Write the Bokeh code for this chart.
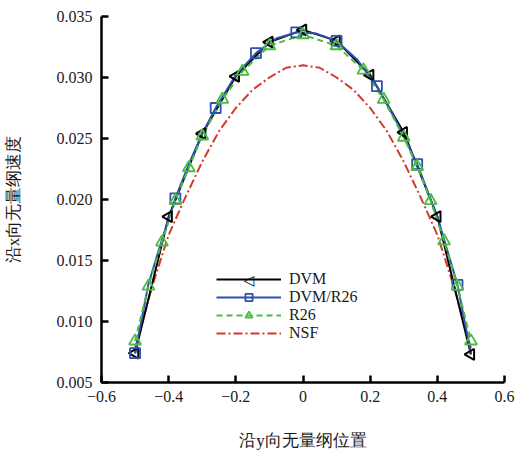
import numpy as np
from bokeh.plotting import figure
from bokeh.models import (Range1d, FixedTicker, CustomJSTickFormatter, PrintfTickFormatter,
                          Legend, LegendItem, Label)
from bokeh.embed import file_html
from bokeh.resources import INLINE

# ---------------- data ----------------
dvm_x = [-0.5, -0.4, -0.3, -0.2, -0.1, 0.0, 0.1, 0.2, 0.3, 0.4, 0.5]
dvm_y = [0.0074, 0.0186, 0.0254, 0.0301, 0.0329, 0.0339, 0.0330, 0.0302, 0.0255, 0.0186, 0.0073]

dvmr26_x = [-0.5, -0.38, -0.26, -0.14, -0.02, 0.10, 0.22, 0.34, 0.46]
dvmr26_y = [0.0074, 0.0201, 0.0275, 0.0320, 0.0337, 0.0330, 0.0293, 0.0229, 0.0130]

dvmr26_line_x = [-0.5, -0.46, -0.42, -0.38, -0.34, -0.30, -0.26, -0.20, -0.14, -0.08, -0.02,
                 0.04, 0.10, 0.16, 0.22, 0.28, 0.34, 0.40, 0.46, 0.5]
dvmr26_line_y = [0.0074, 0.0131, 0.0167, 0.0201, 0.0229, 0.0254, 0.0275, 0.0302, 0.0320, 0.0332, 0.0337,
                 0.0336, 0.0330, 0.0315, 0.0293, 0.0263, 0.0229, 0.0186, 0.0130, 0.0074]

r26_x = [-0.5, -0.46, -0.42, -0.38, -0.34, -0.30, -0.24, -0.18, -0.10, 0.0,
         0.10, 0.18, 0.24, 0.30, 0.34, 0.38, 0.42, 0.46, 0.5]
r26_y = [0.0084, 0.0129, 0.0165, 0.0199, 0.0226, 0.0252, 0.0282, 0.0305, 0.0326, 0.0335,
         0.0326, 0.0306, 0.0282, 0.0251, 0.0227, 0.0199, 0.0166, 0.0129, 0.0084]

nsf_x = [-0.5, -0.45, -0.4, -0.35, -0.3, -0.25, -0.2, -0.15, -0.1, -0.05, 0.0,
         0.05, 0.1, 0.15, 0.2, 0.25, 0.3, 0.35, 0.4, 0.45, 0.5]
nsf_y = [0.0078, 0.0128, 0.0171, 0.0202, 0.0231, 0.0256, 0.0275, 0.0290, 0.0300, 0.0308, 0.0310,
         0.0308, 0.0300, 0.0290, 0.0275, 0.0256, 0.0231, 0.0202, 0.0171, 0.0128, 0.0078]

x_ticks = [-0.6, -0.4, -0.2, 0.0, 0.2, 0.4, 0.6]
y_ticks = [0.005, 0.010, 0.015, 0.020, 0.025, 0.030, 0.035]

x_label = "沿y向无量纲位置"
y_label = "沿x向无量纲速度"
labels = ["DVM", "DVM/R26", "R26", "NSF"]

# ---------------- styling ----------------
BLACK = "#000000"
BLUE = "#2f4fae"
GREEN = "#4dbb44"
RED = "#d23a2c"
SERIF = "Liberation Serif"

p = figure(width=517, height=452, output_backend="svg", toolbar_location=None,
           x_range=Range1d(-0.6, 0.6), y_range=Range1d(0.005, 0.035),
           min_border_left=100, min_border_right=13, min_border_top=16, min_border_bottom=67)
p.outline_line_color = None
p.xgrid.visible = False
p.ygrid.visible = False
p.background_fill_color = "white"
p.border_fill_color = "white"

for ax in (p.xaxis[0], p.yaxis[0]):
    ax.axis_line_width = 2.5
    ax.axis_line_color = "black"
    ax.major_tick_line_width = 2.5
    ax.major_tick_in = 7
    ax.major_tick_out = 0
    ax.minor_tick_line_color = None
    ax.major_label_text_font = SERIF
    ax.major_label_text_font_size = "16px"
    ax.major_label_text_color = "#1a1a1a"
    ax.axis_label_text_font = SERIF
    ax.axis_label_text_font_size = "17px"
    ax.axis_label_text_font_style = "normal"
    ax.axis_label_text_color = "#1a1a1a"

p.xaxis.ticker = FixedTicker(ticks=x_ticks)
p.yaxis.ticker = FixedTicker(ticks=y_ticks)
p.xaxis.formatter = CustomJSTickFormatter(
    code="if (Math.abs(tick) < 1e-9) return '0'; return tick.toFixed(1).replace('-', '\u2212');")
p.yaxis.formatter = PrintfTickFormatter(format="%.3f")
p.xaxis.major_label_standoff = 8
p.yaxis.major_label_standoff = 9
p.xaxis.axis_label = x_label
p.yaxis.axis_label = y_label
p.xaxis.axis_label_standoff = 26
p.yaxis.axis_label_standoff = 31

# ---------------- glyphs ----------------
r_nsf = p.line(nsf_x, nsf_y, line_color=RED, line_width=2, line_dash="9 3 2 3")
r_dvm_l = p.line(dvm_x, dvm_y, line_color=BLACK, line_width=2)
r_blue_l = p.line(dvmr26_line_x, dvmr26_line_y, line_color=BLUE, line_width=2)
r_r26_l = p.line(r26_x, r26_y, line_color=GREEN, line_width=2, line_dash="6 4")

r_dvm_m = p.scatter(dvm_x, dvm_y, marker="triangle", angle=np.pi / 2, size=11,
                    fill_color=None, line_color=BLACK, line_width=2)
r_blue_m = p.scatter(dvmr26_x, dvmr26_y, marker="square", size=10,
                     fill_color=None, line_color=BLUE, line_width=1.8)
r_r26_m = p.scatter(r26_x, r26_y, marker="triangle", size=12,
                    fill_color=None, line_color=GREEN, line_width=1.8)

LEG_X, LEG_Y = 115, 40
ROW = 18
legend = Legend(items=[
    LegendItem(label=labels[0], renderers=[r_dvm_l]),
    LegendItem(label=labels[1], renderers=[r_blue_l, r_blue_m]),
    LegendItem(label=labels[2], renderers=[r_r26_l, r_r26_m]),
    LegendItem(label=labels[3], renderers=[r_nsf]),
], location=(LEG_X, LEG_Y))
legend.background_fill_alpha = 0
legend.border_line_color = None
legend.padding = 0
legend.margin = 0
legend.spacing = 0
legend.glyph_width = 65
legend.glyph_height = ROW
legend.label_height = ROW
legend.label_standoff = 8
legend.label_text_font = SERIF
legend.label_text_font_size = "16px"
legend.label_text_color = "#1a1a1a"
p.add_layout(legend, "center")

# left-pointing triangle sample for the DVM legend entry
p.add_layout(Label(x=LEG_X + 32.5, y=LEG_Y + 4 * ROW - ROW / 2, x_units="screen", y_units="screen",
                   text="\u25C1", text_align="center", text_baseline="middle",
                   text_font="DejaVu Sans", text_font_size="14px", text_font_style="bold",
                   text_color=BLACK))

open("out.html", "w").write(file_html(p, INLINE))
